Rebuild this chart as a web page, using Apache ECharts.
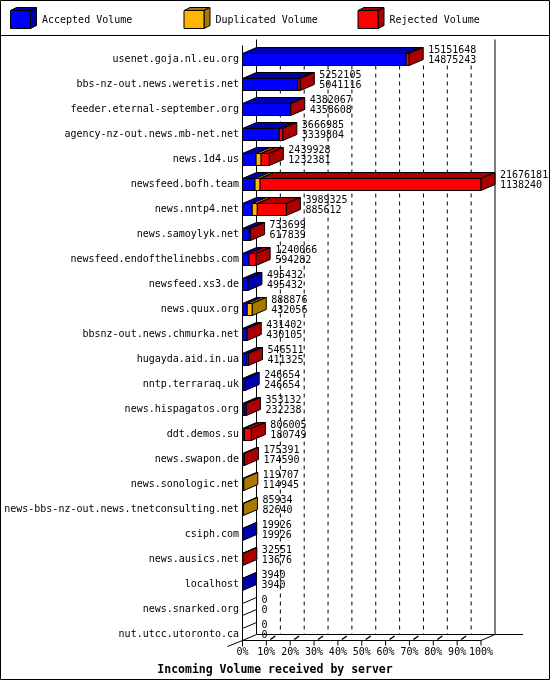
<!DOCTYPE html>
<html><head><meta charset="utf-8">
<script src="https://cdn.jsdelivr.net/npm/echarts@6/dist/echarts.min.js"></script>
<style>html,body{margin:0;padding:0;background:#fff}#c{width:550px;height:680px}</style>
</head><body><div id="c"></div>
<script>
const hosts = ['usenet.goja.nl.eu.org','bbs-nz-out.news.weretis.net','feeder.eternal-september.org','agency-nz-out.news.mb-net.net','news.1d4.us','newsfeed.bofh.team','news.nntp4.net','news.samoylyk.net','newsfeed.endofthelinebbs.com','newsfeed.xs3.de','news.quux.org','bbsnz-out.news.chmurka.net','hugayda.aid.in.ua','nntp.terraraq.uk','news.hispagatos.org','ddt.demos.su','news.swapon.de','news.sonologic.net','news-bbs-nz-out.news.tnetconsulting.net','csiph.com','news.ausics.net','localhost','news.snarked.org','nut.utcc.utoronto.ca'];
const totalVolume = [15151648,5252105,4382067,3666985,2439928,21676181,3989325,733699,1240066,495432,888876,431402,546511,246654,353132,806005,175391,119707,85934,19926,32551,3940,0,0];
const acceptedVolume = [14875243,5041116,4358608,3339804,1232381,1138240,885612,617839,594282,495432,432056,430105,411325,246654,232238,180749,174590,114945,82640,19926,13676,3940,0,0];
const duplicatedVolume = [0,0,0,0,460000,460000,460000,0,0,0,456820,0,0,0,0,0,0,4762,3294,0,0,0,0,0];
const rejectedVolume = [276405,210989,23459,327181,747547,20077941,2643713,115860,645784,0,0,1297,135186,0,120894,625256,801,0,0,0,18875,0,0,0];
const seriesNames = ['Accepted Volume','Duplicated Volume','Rejected Volume'];
const axisTitle = 'Incoming Volume received by server';

const DX = 14, DY = -6, HALF = 6;
const colorsFront = ['#0000ff', '#ffb400', '#ff0000'];
const colorsDark = ['#0000aa', '#aa7800', '#aa0000'];
const FONT = '"DejaVu Sans Mono", monospace';
const maxTotal = Math.max.apply(null, totalVolume);
const pct = v => v / maxTotal * 100;
const barData = hosts.map((h, i) => [i, pct(acceptedVolume[i]), pct(duplicatedVolume[i]), pct(rejectedVolume[i]), pct(totalVolume[i]), totalVolume[i], acceptedVolume[i]]);

function poly(points, fill) {
  return {type: 'polygon', shape: {points: points}, style: {fill: fill, stroke: '#000', lineWidth: 1}};
}
function seg(x1, y1, x2, y2, dash) {
  return {type: 'line', shape: {x1: x1, y1: y1, x2: x2, y2: y2}, style: {stroke: '#000', lineWidth: 1, lineDash: dash || null}};
}

function renderBar(params, api) {
  const i = api.value(0);
  const segs = [api.value(1), api.value(2), api.value(3)];
  const base = api.coord([0, i]);
  const cy = base[1];
  const xs = [base[0]];
  let cum = 0, last = -1;
  for (let k = 0; k < 3; k++) {
    cum += segs[k];
    xs.push(api.coord([cum, i])[0]);
    if (segs[k] > 0) last = k;
  }
  const ch = [];
  const yt = cy - HALF, yb = cy + HALF;
  for (let k = 0; k < 3; k++) {
    if (segs[k] > 0) ch.push(poly([[xs[k], yt], [xs[k] + DX, yt + DY], [xs[k + 1] + DX, yt + DY], [xs[k + 1], yt]], colorsDark[k]));
  }
  for (let k = 0; k < 3; k++) {
    if (segs[k] > 0) ch.push({type: 'rect', shape: {x: xs[k], y: yt, width: xs[k + 1] - xs[k], height: 2 * HALF}, style: {fill: colorsFront[k], stroke: '#000', lineWidth: 1}});
  }
  const xe = xs[3];
  ch.push(poly([[xe, yt], [xe + DX, yt + DY], [xe + DX, yb + DY], [xe, yb]], last >= 0 ? colorsDark[last] : '#fff'));
  ch.push({type: 'text', x: xe + DX + 5, y: cy - 9, style: {text: String(api.value(5)), fill: '#000', font: '10px ' + FONT, align: 'left', verticalAlign: 'middle'}});
  ch.push({type: 'text', x: xe + DX + 5, y: cy + 1, style: {text: String(api.value(6)), fill: '#000', font: '10px ' + FONT, align: 'left', verticalAlign: 'middle'}});
  return {type: 'group', children: ch};
}

function renderFrame(params, api) {
  const n = hosts.length;
  const c0 = api.coord([0, 0]);
  const cl = api.coord([0, n - 1]);
  const x0 = c0[0];
  const x100 = api.coord([100, 0])[0];
  const frontTop = c0[1] - 14;
  const backTop = frontTop + DY;
  const floorFront = cl[1] + HALF;
  const floorBack = floorFront + DY;
  const ch = [];
  for (let k = 1; k < 10; k++) {
    const xb = api.coord([k * 10, 0])[0] + DX;
    ch.push(seg(xb, c0[1] + HALF, xb, floorBack, [4, 4]));
  }
  ch.push(seg(x0, frontTop, x0, floorFront + 6));
  ch.push(seg(x0 + DX, backTop, x0 + DX, floorBack));
  ch.push(seg(x100 + DX, backTop, x100 + DX, floorBack));
  ch.push(seg(x0 + DX, floorBack, x100 + DX + 28, floorBack));
  ch.push({type: 'polyline', shape: {points: [[x0 - 15, floorFront + 6], [x0, floorFront], [x100, floorFront], [x100 + DX, floorBack]]}, style: {stroke: '#000', lineWidth: 1, fill: null}});
  for (let k = 0; k <= 10; k++) {
    const xf = api.coord([k * 10, 0])[0];
    ch.push(seg(xf, floorFront, xf, floorFront + 5));
    if (k > 0 && k < 10) {
      ch.push({type: 'line', shape: {x1: xf + 4, y1: floorFront - 1, x2: xf + 9, y2: floorBack + 1.5}, style: {stroke: '#000', lineWidth: 1.5}});
    }
  }
  return {type: 'group', children: ch};
}

const legendX = [10, 183.5, 357.5];
const graphics = [
  {type: 'rect', shape: {x: 0.5, y: 0.5, width: 549, height: 679}, style: {fill: 'none', stroke: '#000', lineWidth: 1}},
  {type: 'line', shape: {x1: 0, y1: 35.5, x2: 550, y2: 35.5}, style: {stroke: '#000', lineWidth: 1}}
];
seriesNames.forEach((name, k) => {
  graphics.push({type: 'group', x: legendX[k], y: 0, children: [
    {type: 'polygon', shape: {points: [[0.5, 10.5], [6.5, 7.5], [26.5, 7.5], [20.5, 10.5]]}, style: {fill: colorsDark[k], stroke: '#000', lineWidth: 1}},
    {type: 'polygon', shape: {points: [[20.5, 10.5], [26.5, 7.5], [26.5, 25.5], [20.5, 28.5]]}, style: {fill: colorsDark[k], stroke: '#000', lineWidth: 1}},
    {type: 'rect', shape: {x: 0.5, y: 10.5, width: 20, height: 18}, style: {fill: colorsFront[k], stroke: '#000', lineWidth: 1}},
    {type: 'text', x: 32, y: 20, style: {text: name, fill: '#000', font: '10px ' + FONT, align: 'left', verticalAlign: 'middle'}}
  ]});
});

const chart = echarts.init(document.getElementById('c'), null, {renderer: 'canvas'});
chart.setOption({
  animation: false,
  backgroundColor: '#fff',
  title: {text: axisTitle, left: 'center', top: 659, textStyle: {fontFamily: FONT, fontSize: 11.5, fontWeight: 'bold', color: '#000'}},
  grid: {left: 242.5, top: 47, width: 238.5, height: 600, containLabel: false, outerBoundsMode: 'none'},
  xAxis: {type: 'value', min: 0, max: 100, interval: 10,
    axisLine: {show: false}, axisTick: {show: false}, splitLine: {show: false},
    axisLabel: {formatter: '{value}%', fontFamily: FONT, fontSize: 10, color: '#000', margin: 0}},
  yAxis: {type: 'category', data: hosts, inverse: true,
    axisLine: {show: false}, axisTick: {show: false}, splitLine: {show: false},
    axisLabel: {fontFamily: FONT, fontSize: 10, color: '#000', margin: 3.5, interval: 0}},
  graphic: graphics,
  series: [
    {type: 'custom', name: 'frame', renderItem: renderFrame, data: [[0, 0]], encode: {x: 0, y: 1}, z: 1, silent: true},
    {type: 'custom', name: 'bars', renderItem: renderBar, data: barData, encode: {x: 4, y: 0}, z: 2, silent: true}
  ]
});
</script></body></html>
